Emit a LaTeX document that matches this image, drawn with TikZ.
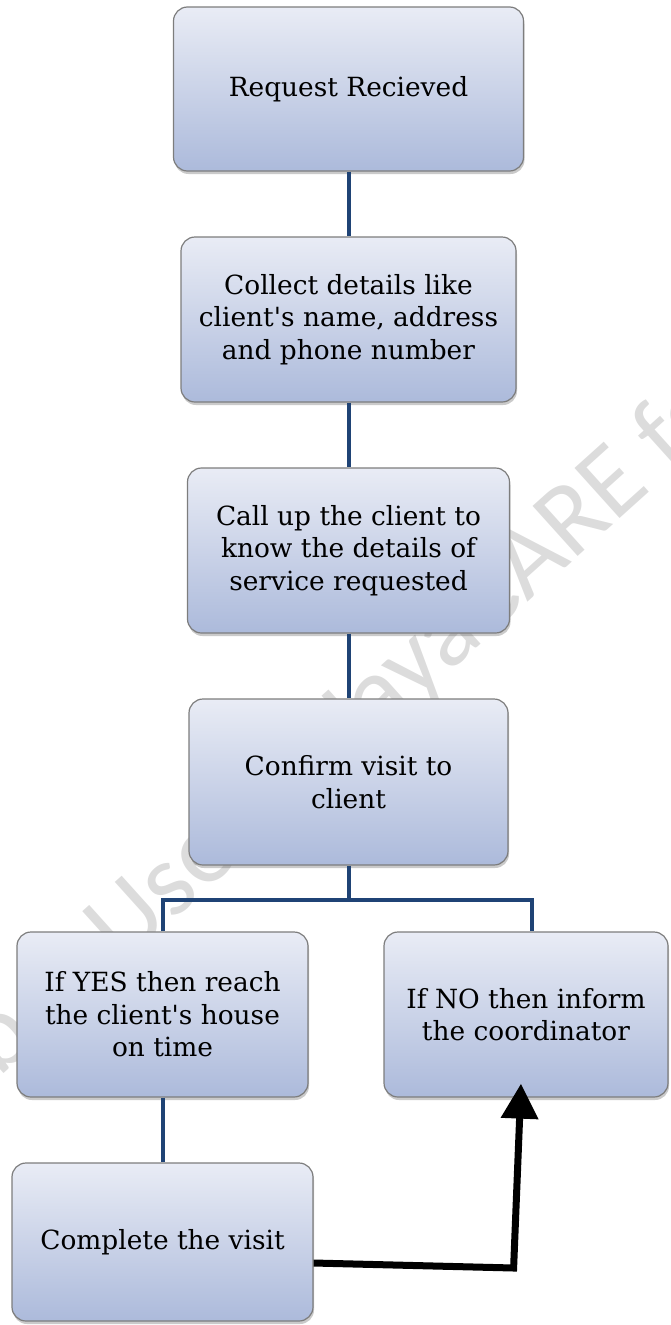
\documentclass[tikz,border=0pt]{standalone}
\usepackage{fontspec}
\setmainfont{DejaVu Serif}
\newfontfamily\wmfont{Carlito}
\usetikzlibrary{shadows,arrows.meta}
\definecolor{boxtop}{RGB}{233,236,245}
\definecolor{boxbot}{RGB}{172,186,219}
\definecolor{boxedge}{RGB}{125,125,125}
\definecolor{linkblue}{RGB}{31,67,117}
\definecolor{wmgray}{RGB}{220,220,220}
\begin{document}
\begin{tikzpicture}[x=1pt,y=-1pt,
  flowbox/.style={rounded corners=14pt, draw=boxedge, line width=1.2pt,
    top color=boxtop, bottom color=boxbot, text=black, align=center, inner sep=0pt,
    font=\fontsize{26.4}{32.5}\selectfont,
    drop shadow={shadow xshift=1pt, shadow yshift=-3pt, opacity=0.35, fill=black!60}},
  link/.style={draw=linkblue, line width=4pt, line join=miter},
  bigarrow/.style={draw=black, line width=7pt, line join=miter,
    -{Triangle[length=35pt,width=36pt]}},
  wm/.style={text=wmgray, inner sep=0pt, font=\wmfont\fontsize{105}{105}\selectfont}]
\useasboundingbox (0,0) rectangle (671,1325);
\begin{scope}
\clip (0,0) rectangle (671,1325);
\node[wm, rotate=42, anchor=base west] (wm) at (-170,1230) {Member Use by JayaCARE for};
\end{scope}
\node[flowbox, minimum width=350pt, minimum height=164pt] (req) at (348.5,89) {Request Recieved};
\node[flowbox, minimum width=335pt, minimum height=165pt] (collect) at (348.5,319.5) {Collect details like\\client\textquotesingle s name, address\\and phone number};
\node[flowbox, minimum width=322pt, minimum height=165pt] (callup) at (348.5,550.5) {Call up the client to\\know the details of\\service requested};
\node[flowbox, minimum width=319pt, minimum height=166pt] (confirm) at (348.5,782) {Confirm visit to\\client};
\node[flowbox, minimum width=291pt, minimum height=165pt] (yes) at (162.5,1014.5) {If YES then reach\\the client\textquotesingle s house\\on time};
\node[flowbox, minimum width=284pt, minimum height=165pt] (no) at (526,1014.5) {If NO then inform\\the coordinator};
\node[flowbox, minimum width=301pt, minimum height=158pt] (complete) at (162.5,1242) {Complete the visit};
\draw[link] (req.south) -- (collect.north);
\draw[link] (collect.south) -- (callup.north);
\draw[link] (callup.south) -- (confirm.north);
\draw[link] (confirm.south) -- ([yshift=-34pt]confirm.south);
\draw[link] (yes.north) |- ([yshift=-34pt]confirm.south) -| ([xshift=5.5pt]no.north);
\draw[link] (yes.south) -- (complete.north);
\draw[bigarrow] ([yshift=-21pt]complete.east) -- ++(200,5) coordinate (turn) -- ([xshift=-5pt,yshift=14pt]no.south);
\end{tikzpicture}
\end{document}
